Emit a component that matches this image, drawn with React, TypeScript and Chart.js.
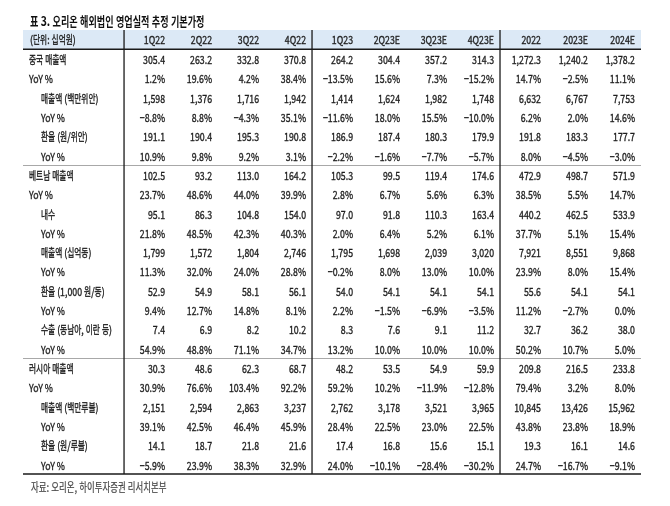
import React, { useEffect, useRef } from 'react';
import { Chart, registerables } from 'chart.js';

Chart.register(...registerables);

// ---------- data ----------
const title = '표 3. 오리온 해외법인 영업실적 추정 기본가정';
const unitLabel = '(단위: 십억원)';
const source = '자료: 오리온, 하이투자증권 리서치본부';
const columns = ['1Q22', '2Q22', '3Q22', '4Q22', '1Q23', '2Q23E', '3Q23E', '4Q23E', '2022', '2023E', '2024E'];

const chinaSales = [305.4, 263.2, 332.8, 370.8, 264.2, 304.4, 357.2, 314.3, 1272.3, 1240.2, 1378.2];
const chinaSalesYoY = [1.2, 19.6, 4.2, 38.4, -13.5, 15.6, 7.3, -15.2, 14.7, -2.5, 11.1];
const chinaCny = [1598, 1376, 1716, 1942, 1414, 1624, 1982, 1748, 6632, 6767, 7753];
const chinaCnyYoY = [-8.8, 8.8, -4.3, 35.1, -11.6, 18.0, 15.5, -10.0, 6.2, 2.0, 14.6];
const chinaFx = [191.1, 190.4, 195.3, 190.8, 186.9, 187.4, 180.3, 179.9, 191.8, 183.3, 177.7];
const chinaFxYoY = [10.9, 9.8, 9.2, 3.1, -2.2, -1.6, -7.7, -5.7, 8.0, -4.5, -3.0];

const vietSales = [102.5, 93.2, 113.0, 164.2, 105.3, 99.5, 119.4, 174.6, 472.9, 498.7, 571.9];
const vietSalesYoY = [23.7, 48.6, 44.0, 39.9, 2.8, 6.7, 5.6, 6.3, 38.5, 5.5, 14.7];
const vietDomestic = [95.1, 86.3, 104.8, 154.0, 97.0, 91.8, 110.3, 163.4, 440.2, 462.5, 533.9];
const vietDomesticYoY = [21.8, 48.5, 42.3, 40.3, 2.0, 6.4, 5.2, 6.1, 37.7, 5.1, 15.4];
const vietVnd = [1799, 1572, 1804, 2746, 1795, 1698, 2039, 3020, 7921, 8551, 9868];
const vietVndYoY = [11.3, 32.0, 24.0, 28.8, -0.2, 8.0, 13.0, 10.0, 23.9, 8.0, 15.4];
const vietFx = [52.9, 54.9, 58.1, 56.1, 54.0, 54.1, 54.1, 54.1, 55.6, 54.1, 54.1];
const vietFxYoY = [9.4, 12.7, 14.8, 8.1, 2.2, -1.5, -6.9, -3.5, 11.2, -2.7, 0.0];
const vietExport = [7.4, 6.9, 8.2, 10.2, 8.3, 7.6, 9.1, 11.2, 32.7, 36.2, 38.0];
const vietExportYoY = [54.9, 48.8, 71.1, 34.7, 13.2, 10.0, 10.0, 10.0, 50.2, 10.7, 5.0];

const russiaSales = [30.3, 48.6, 62.3, 68.7, 48.2, 53.5, 54.9, 59.9, 209.8, 216.5, 233.8];
const russiaSalesYoY = [30.9, 76.6, 103.4, 92.2, 59.2, 10.2, -11.9, -12.8, 79.4, 3.2, 8.0];
const russiaRub = [2151, 2594, 2863, 3237, 2762, 3178, 3521, 3965, 10845, 13426, 15962];
const russiaRubYoY = [39.1, 42.5, 46.4, 45.9, 28.4, 22.5, 23.0, 22.5, 43.8, 23.8, 18.9];
const russiaFx = [14.1, 18.7, 21.8, 21.6, 17.4, 16.8, 15.6, 15.1, 19.3, 16.1, 14.6];
const russiaFxYoY = [-5.9, 23.9, 38.3, 32.9, 24.0, -10.1, -28.4, -30.2, 24.7, -16.7, -9.1];

type Kind = 'dec' | 'int' | 'pct';
type RowDef = { label: string; level: number; kind: Kind; values: number[] };

const rows: RowDef[] = [
  { label: '중국 매출액', level: 0, kind: 'dec', values: chinaSales },
  { label: 'YoY %', level: 0, kind: 'pct', values: chinaSalesYoY },
  { label: '매출액 (백만위안)', level: 1, kind: 'int', values: chinaCny },
  { label: 'YoY %', level: 1, kind: 'pct', values: chinaCnyYoY },
  { label: '환율 (원/위안)', level: 1, kind: 'dec', values: chinaFx },
  { label: 'YoY %', level: 1, kind: 'pct', values: chinaFxYoY },
  { label: '베트남 매출액', level: 0, kind: 'dec', values: vietSales },
  { label: 'YoY %', level: 0, kind: 'pct', values: vietSalesYoY },
  { label: '내수', level: 1, kind: 'dec', values: vietDomestic },
  { label: 'YoY %', level: 1, kind: 'pct', values: vietDomesticYoY },
  { label: '매출액 (십억동)', level: 1, kind: 'int', values: vietVnd },
  { label: 'YoY %', level: 1, kind: 'pct', values: vietVndYoY },
  { label: '환율 (1,000 원/동)', level: 1, kind: 'dec', values: vietFx },
  { label: 'YoY %', level: 1, kind: 'pct', values: vietFxYoY },
  { label: '수출 (동남아, 이란 등)', level: 1, kind: 'dec', values: vietExport },
  { label: 'YoY %', level: 1, kind: 'pct', values: vietExportYoY },
  { label: '러시아 매출액', level: 0, kind: 'dec', values: russiaSales },
  { label: 'YoY %', level: 0, kind: 'pct', values: russiaSalesYoY },
  { label: '매출액 (백만루블)', level: 1, kind: 'int', values: russiaRub },
  { label: 'YoY %', level: 1, kind: 'pct', values: russiaRubYoY },
  { label: '환율 (원/루블)', level: 1, kind: 'dec', values: russiaFx },
  { label: 'YoY %', level: 1, kind: 'pct', values: russiaFxYoY },
];

const sectionBreaks = [6, 16];
const groupBreaks = [0, 4, 8];

// ---------- styles ----------
const LABEL_UNITS = 2.15;
const FONT = '"Noto Sans CJK KR", "Noto Sans", sans-serif';
const HANGUL_SCALE = 0.7;
const LATIN_SCALE = 0.8;
const TEXT_COLOR = '#1e1e1e';
const HEADER_BG = '#dce9f6';

function fmt(v: number, kind: Kind): string {
  let s: string;
  if (kind === 'pct') s = v.toFixed(1) + '%';
  else if (kind === 'int') s = v.toLocaleString('en-US', { maximumFractionDigits: 0 });
  else s = v.toLocaleString('en-US', { minimumFractionDigits: 1, maximumFractionDigits: 1 });
  return s.replace('-', '\u2212');
}

function drawRich(
  ctx: CanvasRenderingContext2D,
  text: string,
  x: number,
  y: number,
  align: 'left' | 'right',
  size: number,
  weight: string,
  color: string,
  thicken = 0.35
) {
  ctx.font = `${weight} ${size}px ${FONT}`;
  ctx.textBaseline = 'middle';
  ctx.textAlign = 'left';
  ctx.fillStyle = color;
  ctx.strokeStyle = color;
  const runs = text.match(/[\uAC00-\uD7A3]+|[^\uAC00-\uD7A3]+/g) || [];
  const parts = runs.map((r) => {
    const s = /[\uAC00-\uD7A3]/.test(r) ? HANGUL_SCALE : LATIN_SCALE;
    return { r, s, w: ctx.measureText(r).width * s };
  });
  const total = parts.reduce((a, p) => a + p.w, 0);
  let cx = align === 'right' ? x - total : x;
  for (const p of parts) {
    ctx.save();
    ctx.translate(cx, y);
    ctx.scale(p.s, 1);
    ctx.fillText(p.r, 0, 0);
    if (thicken > 0) {
      ctx.lineWidth = thicken;
      ctx.strokeText(p.r, 0, 0);
    }
    ctx.restore();
    cx += p.w;
  }
}

const tablePlugin = {
  id: 'tableDraw',
  beforeDatasetsDraw(chart: any) {
    const { ctx, scales } = chart;
    const xs = scales.x;
    const ys = scales.y;
    const left = xs.getPixelForValue(-LABEL_UNITS);
    const right = xs.getPixelForValue(columns.length);
    const yTop = ys.getPixelForValue(-1);
    const yHead = ys.getPixelForValue(0);
    const yBot = ys.getPixelForValue(rows.length);
    ctx.save();
    ctx.fillStyle = HEADER_BG;
    ctx.fillRect(left, yTop, right - left, yHead - yTop);

    ctx.strokeStyle = '#a8a8a8';
    ctx.lineWidth = 1;
    for (const b of sectionBreaks) {
      const py = Math.round(ys.getPixelForValue(b)) + 0.5;
      ctx.beginPath();
      ctx.moveTo(left, py);
      ctx.lineTo(right, py);
      ctx.stroke();
    }
    ctx.strokeStyle = '#1a1a1a';
    ctx.lineWidth = 1.5;
    for (const py of [yHead, yBot]) {
      ctx.beginPath();
      ctx.moveTo(left, py);
      ctx.lineTo(right, py);
      ctx.stroke();
    }
    ctx.lineWidth = 1.3;
    for (const g of groupBreaks) {
      const px = xs.getPixelForValue(g);
      ctx.beginPath();
      ctx.moveTo(px, yTop);
      ctx.lineTo(px, yBot);
      ctx.stroke();
    }
    ctx.restore();
  },
  afterDatasetsDraw(chart: any) {
    const { ctx, scales } = chart;
    const xs = scales.x;
    const ys = scales.y;
    const left = xs.getPixelForValue(-LABEL_UNITS);
    ctx.save();
    drawRich(ctx, title, left + 7, ys.getPixelForValue(-1) - 9, 'left', 13, 'bold', '#111', 0);
    const hy = ys.getPixelForValue(-0.5) + 0.5;
    drawRich(ctx, unitLabel, left + 7, hy, 'left', 11, 'normal', TEXT_COLOR);
    columns.forEach((c, i) => {
      drawRich(ctx, c, xs.getPixelForValue(i + 1) - 6, hy, 'right', 11, 'normal', TEXT_COLOR);
    });
    chart.data.datasets.forEach((_ds: any, r: number) => {
      const row = rows[r];
      const meta = chart.getDatasetMeta(r);
      const ry = ys.getPixelForValue(r + 0.5) + 1;
      drawRich(ctx, row.label, left + (row.level === 0 ? 6 : 18), ry, 'left', 11, 'normal', TEXT_COLOR);
      meta.data.forEach((pt: any, j: number) => {
        drawRich(ctx, fmt(row.values[j], row.kind), pt.x - 6, pt.y + 1, 'right', 11, 'normal', TEXT_COLOR);
      });
    });
    drawRich(ctx, source, left + 8, ys.getPixelForValue(rows.length) + 13, 'left', 12, 'normal', '#444', 0.2);
    ctx.restore();
  },
};

export default function App() {
  const ref = useRef<HTMLCanvasElement | null>(null);
  useEffect(() => {
    document.body.style.margin = '0';
    if (!ref.current) return;
    const chart = new Chart(ref.current, {
      type: 'scatter',
      data: {
        datasets: rows.map((row, r) => ({
          label: row.label,
          data: row.values.map((_, j) => ({ x: j + 1, y: r + 0.5 })),
          pointRadius: 0,
          pointHoverRadius: 0,
          showLine: false,
        })),
      },
      options: {
        animation: false,
        responsive: false,
        devicePixelRatio: 1,
        layout: { padding: { left: 23, right: 29, top: 30, bottom: 32 } },
        scales: {
          x: { type: 'linear', min: -LABEL_UNITS, max: columns.length, display: false },
          y: { type: 'linear', min: -1, max: rows.length, reverse: true, display: false },
        },
        plugins: { legend: { display: false }, tooltip: { enabled: false } },
        events: [],
      },
      plugins: [tablePlugin],
    });
    return () => chart.destroy();
  }, []);
  return (
    <div style={{ width: 670, height: 506, background: '#fff' }}>
      <canvas ref={ref} width={670} height={506} />
    </div>
  );
}
